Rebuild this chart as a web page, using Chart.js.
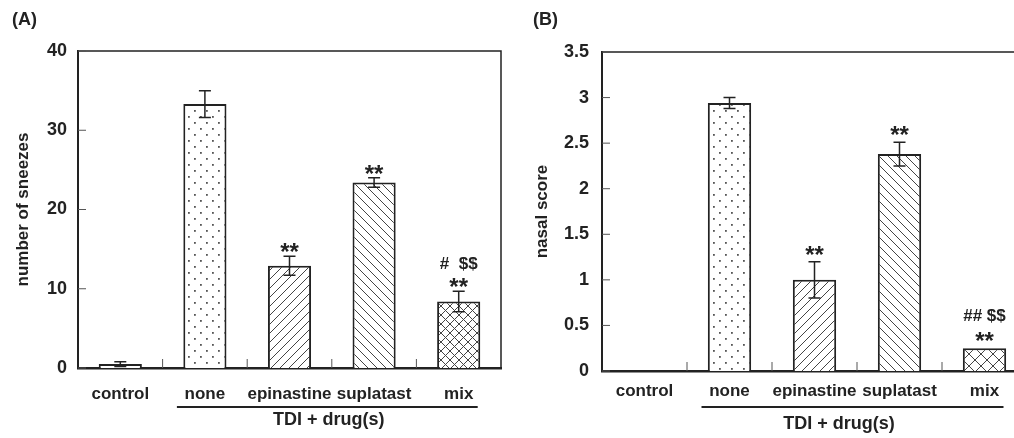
<!DOCTYPE html>
<html>
<head>
<meta charset="utf-8">
<script src="https://cdn.jsdelivr.net/npm/chart.js@4.4.0/dist/chart.umd.min.js"></script>
<style>
  html, body { margin: 0; padding: 0; background: #fff; overflow: hidden; }
  #wrap { position: relative; width: 1014px; height: 438px; overflow: hidden; }
  canvas { position: absolute; top: 0; }
  #chartA { left: 0; }
  #chartB { left: 507px; }
</style>
</head>
<body>
<div id="wrap">
  <canvas id="chartA" width="507" height="438"></canvas>
  <canvas id="chartB" width="520" height="438"></canvas>
</div>
<script>
const categories = ["control", "none", "epinastine", "suplatast", "mix"];
const groupLabel = "TDI + drug(s)";

// (A) number of sneezes
const sneezeMean  = [0.5, 33.3, 12.9, 23.4, 8.4];
const sneezeErr   = [0.3, 1.7, 1.2, 0.6, 1.3];
const sneezeStars = ["", "", "**", "**", "**"];
const sneezeMarks = ["", "", "", "", "#  $$"];
const sneezeTicks = ["0", "10", "20", "30", "40"];

// (B) nasal score
const nasalMean  = [0, 2.94, 1.0, 2.38, 0.25];
const nasalErr   = [0, 0.06, 0.2, 0.13, 0];
const nasalStars = ["", "", "**", "**", "**"];
const nasalMarks = ["", "", "", "", "## $$"];
const nasalTicks = ["0", "0.5", "1", "1.5", "2", "2.5", "3", "3.5"];

const ink = "#222";
const family = "'Liberation Sans', Arial, Helvetica, sans-serif";

function makePattern(kind, s) {
  const c = document.createElement("canvas");
  c.width = s; c.height = s;
  const g = c.getContext("2d");
  g.fillStyle = "#fff";
  g.fillRect(0, 0, s, s);
  if (kind === "plain") return g.createPattern(c, "repeat");
  if (kind === "dots") {
    g.fillStyle = "#555";
    g.fillRect(2, 2, 1.8, 1.8);
    g.fillRect(s / 2 + 2, s / 2 + 2, 1.8, 1.8);
    return g.createPattern(c, "repeat");
  }
  g.strokeStyle = "#444";
  g.lineWidth = 1;
  g.beginPath();
  if (kind === "fwd" || kind === "cross") {
    g.moveTo(0, s); g.lineTo(s, 0);
    g.moveTo(-1, 1); g.lineTo(1, -1);
    g.moveTo(s - 1, s + 1); g.lineTo(s + 1, s - 1);
  }
  if (kind === "back" || kind === "cross") {
    g.moveTo(0, 0); g.lineTo(s, s);
    g.moveTo(-1, s - 1); g.lineTo(1, s + 1);
    g.moveTo(s - 1, -1); g.lineTo(s + 1, 1);
  }
  g.stroke();
  return g.createPattern(c, "repeat");
}

function drawPanel(id, cfg) {
  const ctx = document.getElementById(id).getContext("2d");

  const extras = {
    id: "extras",
    afterDraw(chart) {
      const c = chart.ctx;
      const area = chart.chartArea;
      const xs = chart.scales.x, ys = chart.scales.y;
      c.save();
      c.strokeStyle = ink;
      c.fillStyle = ink;

      // frame top / right
      c.lineWidth = 1.5;
      c.beginPath();
      c.moveTo(area.left, area.top);
      c.lineTo(area.right, area.top);
      c.lineTo(area.right, area.bottom);
      c.stroke();

      // inner ticks
      c.lineWidth = 1;
      c.strokeStyle = "#555";
      c.beginPath();
      ys.ticks.forEach(t => {
        const y = ys.getPixelForValue(t.value);
        c.moveTo(area.left, y); c.lineTo(area.left + 8, y);
      });
      for (let i = 1; i < categories.length; i++) {
        const x = (xs.getPixelForValue(i - 1) + xs.getPixelForValue(i)) / 2;
        c.moveTo(x, area.bottom); c.lineTo(x, area.bottom - 9);
      }
      c.stroke();

      // error bars and significance marks
      c.strokeStyle = ink;
      c.lineWidth = 1.5;
      chart.getDatasetMeta(0).data.forEach((bar, i) => {
        const v = cfg.values[i], e = cfg.errors[i];
        const x = bar.x;
        const yTop = ys.getPixelForValue(v + e);
        if (e > 0) {
          const yBot = ys.getPixelForValue(v - e);
          c.beginPath();
          c.moveTo(x, yTop); c.lineTo(x, yBot);
          c.moveTo(x - 6, yTop); c.lineTo(x + 6, yTop);
          c.moveTo(x - 6, yBot); c.lineTo(x + 6, yBot);
          c.stroke();
        }
        const starY = yTop - cfg.starGap;
        c.textAlign = "center";
        c.textBaseline = "alphabetic";
        if (cfg.stars[i]) {
          c.font = "bold 24px " + family;
          c.fillText(cfg.stars[i], x, starY + 0.56 * 24);
        }
        if (cfg.marks[i]) {
          c.font = "bold 17px " + family;
          c.fillText(cfg.marks[i], x, starY - cfg.markGap);
        }
      });

      // group underline and label
      c.lineWidth = 2;
      c.beginPath();
      c.moveTo(xs.getPixelForValue(1) - 28, cfg.lineY);
      c.lineTo(xs.getPixelForValue(4) + 19, cfg.lineY);
      c.stroke();
      c.font = "bold 18px " + family;
      c.textAlign = "center";
      c.textBaseline = "alphabetic";
      const mid = (xs.getPixelForValue(2) + xs.getPixelForValue(3)) / 2;
      c.fillText(groupLabel, mid + cfg.groupShift, cfg.groupY);

      // panel letter
      c.font = "bold 18px " + family;
      c.textAlign = "left";
      c.textBaseline = "middle";
      c.fillText(cfg.letter, cfg.letterX, 20);
      c.restore();
    }
  };

  return new Chart(ctx, {
    type: "bar",
    data: {
      labels: categories,
      datasets: [{
        data: cfg.values,
        backgroundColor: cfg.fills,
        borderColor: ink,
        borderWidth: 2,
        barPercentage: 0.51,
        categoryPercentage: 1
      }]
    },
    options: {
      responsive: false,
      animation: false,
      layout: { padding: cfg.padding },
      plugins: { legend: { display: false }, tooltip: { enabled: false } },
      scales: {
        x: {
          grid: { display: false },
          border: { color: ink, width: 2.5 },
          ticks: {
            color: ink,
            padding: cfg.xPad,
            autoSkip: false,
            maxRotation: 0,
            minRotation: 0,
            font: { family, size: 17, weight: "bold" }
          },
          afterFit: s => { s.height = cfg.xHeight; }
        },
        y: {
          min: 0,
          max: cfg.max,
          grid: { display: false },
          border: { color: ink, width: 2 },
          ticks: {
            stepSize: cfg.step,
            color: ink,
            padding: cfg.yPad,
            font: { family, size: 18, weight: "bold" },
            callback: (v, i) => cfg.tickLabels[i]
          },
          title: {
            display: true,
            text: cfg.yTitle,
            color: ink,
            font: { family, size: 17, weight: "bold" },
            padding: { top: cfg.titlePad, bottom: 0 }
          },
          afterFit: s => { s.width = cfg.yWidth; }
        }
      }
    },
    plugins: [extras]
  });
}

drawPanel("chartA", {
  letter: "(A)", letterX: 12,
  values: sneezeMean, errors: sneezeErr, stars: sneezeStars, marks: sneezeMarks,
  tickLabels: sneezeTicks, max: 40, step: 10, yTitle: "number of sneezes",
  fills: [makePattern("plain", 4), makePattern("dots", 12), makePattern("fwd", 9),
          makePattern("back", 9), makePattern("cross", 9)],
  padding: { top: 51, right: 6, left: 0, bottom: 0 },
  yWidth: 78, xHeight: 70, xPad: 8, yPad: 3, titlePad: 13,
  starGap: 9.5, markGap: 13,
  lineY: 407, groupY: 425, groupShift: -3
});

drawPanel("chartB", {
  letter: "(B)", letterX: 26,
  values: nasalMean, errors: nasalErr, stars: nasalStars, marks: nasalMarks,
  tickLabels: nasalTicks, max: 3.5, step: 0.5, yTitle: "nasal score",
  fills: [makePattern("plain", 4), makePattern("dots", 12), makePattern("fwd", 9),
          makePattern("back", 9), makePattern("cross", 12)],
  padding: { top: 52, right: 0, left: 0, bottom: 0 },
  yWidth: 95, xHeight: 67, xPad: 2, yPad: 5, titlePad: 25,
  starGap: 12.5, markGap: 14.5,
  lineY: 407, groupY: 429, groupShift: -18
});
</script>
</body>
</html>
